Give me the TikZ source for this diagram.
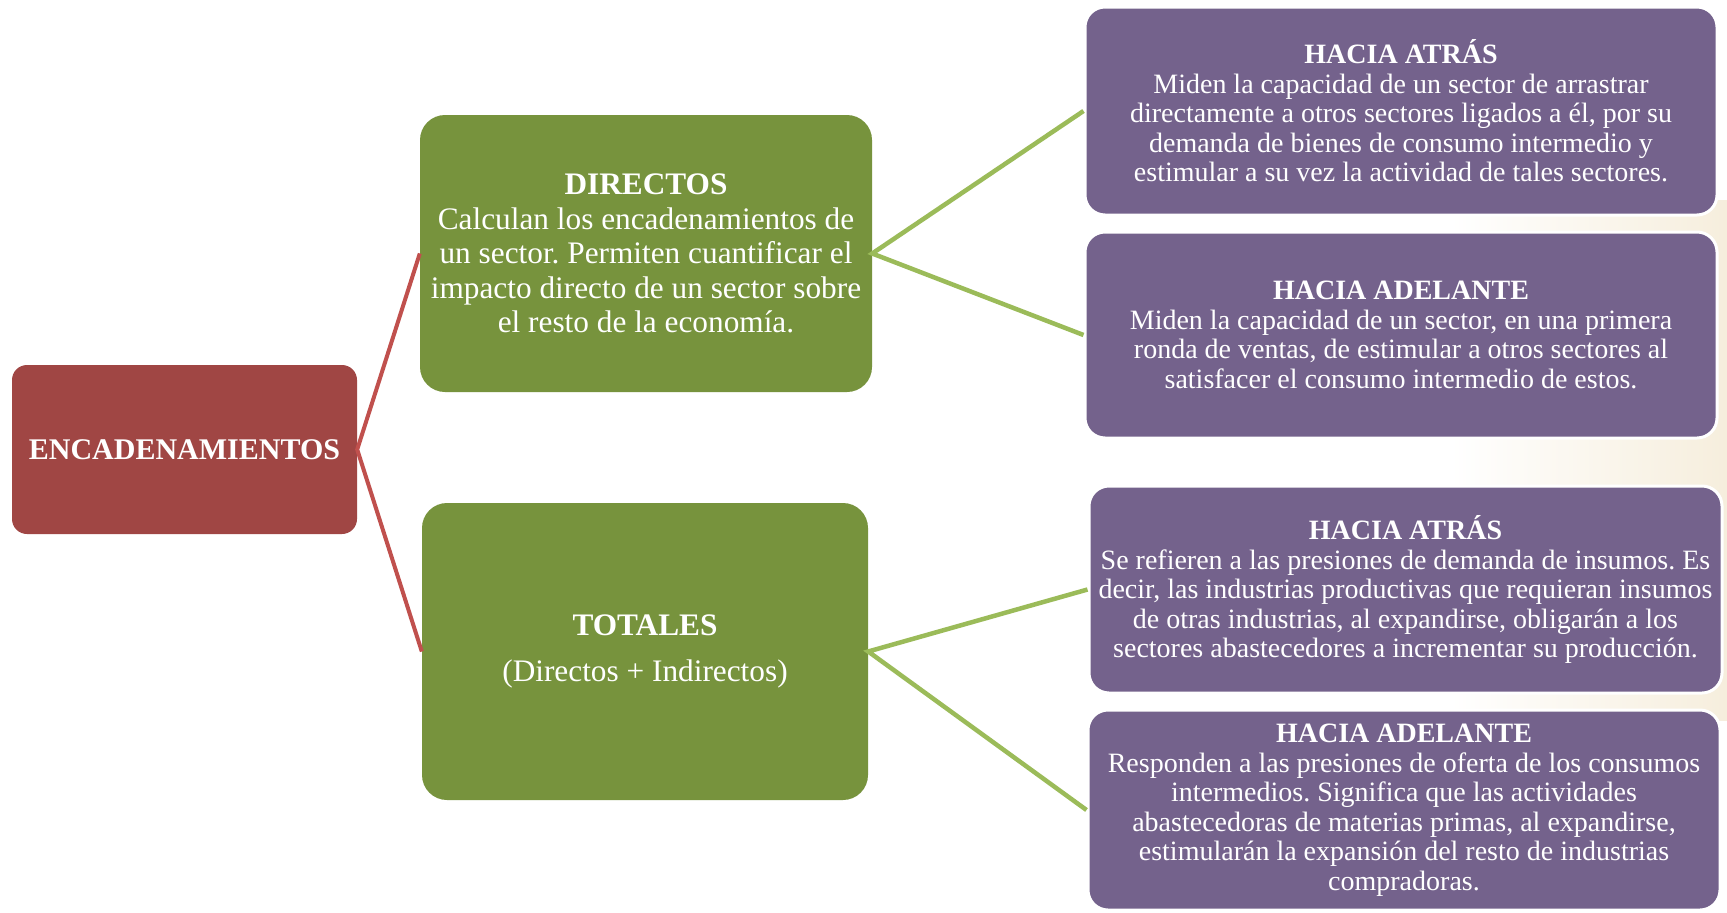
\documentclass[tikz,border=0pt]{standalone}
\usepackage{fontspec}
\setmainfont{Liberation Serif}
\frenchspacing
\definecolor{boxred}{HTML}{A04644}
\definecolor{boxgreen}{HTML}{77933D}
\definecolor{boxpurple}{HTML}{74628C}
\definecolor{linered}{HTML}{C0504D}
\definecolor{linegreen}{HTML}{9BBB59}
\definecolor{beige}{HTML}{F6EEDD}
\tikzset{
  rootbox/.style={fill=boxred, rounded corners=15pt, text=white, align=center, inner sep=0pt,
    font=\fontsize{30}{34}\selectfont\bfseries},
  greenbox/.style={fill=boxgreen, rounded corners=25pt, text=white, align=center, inner sep=0pt,
    font=\fontsize{31.3}{34.5}\selectfont},
  purplebox/.style={fill=boxpurple, draw=white, line width=3pt, rounded corners=20pt, text=white,
    align=center, inner sep=0pt, font=\fontsize{28}{29.5}\selectfont},
  redlink/.style={draw=linered, line width=4pt},
  greenlink/.style={draw=linegreen, line width=4.5pt},
}
\begin{document}
\begin{tikzpicture}[x=1pt,y=-1pt]
\useasboundingbox (0,0) rectangle (1727,913);
\fill[white] (0,0) rectangle (1727,913);
\shade[left color=white, right color=beige] (1450,200) rectangle (1727,720);

\node[rootbox, minimum width=345pt, minimum height=169pt] (root) at (184.5,449.5) {ENCADENAMIENTOS};

\node[greenbox, minimum width=452pt, minimum height=277pt] (dir) at (646,253.5)
  {\textbf{DIRECTOS}\\Calculan los encadenamientos de\\un sector. Permiten cuantificar el\\impacto directo de un sector sobre\\el resto de la economía.};

\node[greenbox, minimum width=446pt, minimum height=297pt] (tot) at (645,651.5)
  {\textbf{TOTALES}\\[11pt](Directos + Indirectos)};

\node[purplebox, minimum width=632pt, minimum height=208pt] (p1) at (1401,111)
  {\textbf{HACIA ATRÁS}\\Miden la capacidad de un sector de arrastrar\\directamente a otros sectores ligados a él, por su\\demanda de bienes de consumo intermedio y\\estimular a su vez la actividad de tales sectores.};

\node[purplebox, minimum width=632pt, minimum height=206pt] (p2) at (1401,335)
  {\textbf{HACIA ADELANTE}\\Miden la capacidad de un sector, en una primera\\ronda de ventas, de estimular a otros sectores al\\satisfacer el consumo intermedio de estos.};

\node[purplebox, minimum width=633pt, minimum height=207pt] (p3) at (1405.5,589.5)
  {\textbf{HACIA ATRÁS}\\Se refieren a las presiones de demanda de insumos. Es\\decir, las industrias productivas que requieran insumos\\de otras industrias, al expandirse, obligarán a los\\sectores abastecedores a incrementar su producción.};

\node[purplebox, minimum width=632pt, minimum height=200pt] (p4) at (1404,810)
  {\textbf{HACIA ADELANTE}\\Responden a las presiones de oferta de los consumos\\intermedios. Significa que las actividades\\abastecedoras de materias primas, al expandirse,\\estimularán la expansión del resto de industrias\\compradoras.};

\draw[redlink] (dir.west) -- (root.east) -- (tot.west);
\draw[greenlink] (p1.west) -- (dir.east) -- (p2.west);
\draw[greenlink] (p3.west) -- (tot.east) -- (p4.west);
\end{tikzpicture}
\end{document}
